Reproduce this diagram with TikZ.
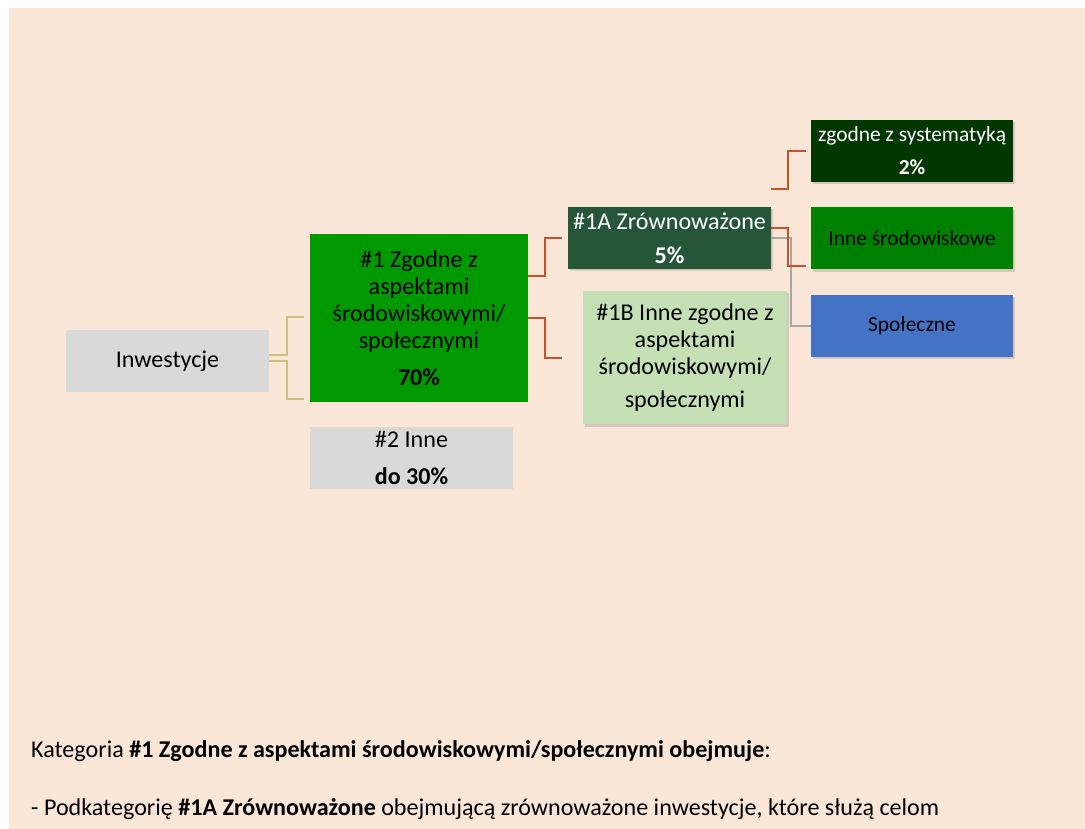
\documentclass[tikz,border=0pt]{standalone}
\usepackage{fontspec}
\setmainfont{Carlito}
\usepackage{tikz}
\usetikzlibrary{positioning,shadows}

\definecolor{tlo}{RGB}{250,231,215}
\definecolor{szary}{RGB}{217,217,217}
\definecolor{zielen}{RGB}{0,153,0}
\definecolor{ciemna}{RGB}{37,86,57}
\definecolor{jasna}{RGB}{197,224,180}
\definecolor{najciemn}{RGB}{0,55,0}
\definecolor{srodkowa}{RGB}{0,128,0}
\definecolor{niebieska}{RGB}{68,114,196}
\definecolor{piaskowa}{RGB}{204,192,128}
\definecolor{ceglasta}{RGB}{202,82,42}
\definecolor{popiel}{RGB}{165,165,165}

\begin{document}
\begin{tikzpicture}[x=1pt,y=-1pt,
	box/.style={inner sep=0pt, align=center, font=\fontsize{24.1}{27}\selectfont},
	mala/.style={inner sep=0pt, align=center, font=\fontsize{21.4}{25}\selectfont, minimum width=202pt, minimum height=62pt},
	cien/.style={drop shadow={opacity=0.3, shadow xshift=1.5pt, shadow yshift=-2.5pt}},
	tanline/.style={draw=piaskowa, line width=2pt},
	redline/.style={draw=ceglasta, line width=2pt},
	grayline/.style={draw=popiel, line width=1.5pt}]
	\useasboundingbox (0,0) rectangle (1085,829);
	\fill[tlo] (9,8) rectangle (1085,829);
	
	\node[box, fill=szary, minimum width=203pt, minimum height=62pt] (inw) at (167.5,361) {Inwestycje};
	\node[box, fill=zielen, minimum width=218pt, minimum height=168pt] (zg) at (419,318) {\#1 Zgodne z\\aspektami\\środowiskowymi/\\społecznymi\\[10pt]\textbf{70\%}};
	\node[box, fill=szary, minimum width=203pt, minimum height=62pt, below=25pt of zg.south west, anchor=north west] (inne) {\#2 Inne\\[10pt]\textbf{do 30\%}};
	
	\node[box, text=white, fill=ciemna, cien, minimum width=203pt, minimum height=62pt] (zr) at (669.5,238) {\#1A Zrównoważone\\[7pt]\textbf{5\%}};
	\node[box, fill=jasna, cien, minimum width=204pt, minimum height=133pt] (ib) at (685,357.5) {\#1B Inne zgodne z\\aspektami\\środowiskowymi/\\[6pt]społecznymi};
	
	\node[mala, text=white, fill=najciemn, cien] (sys) at (912,151) {zgodne z systematyką\\[8pt]\textbf{2\%}};
	\node[mala, fill=srodkowa, cien, below=25pt of sys] (srod) {Inne środowiskowe};
	\node[mala, fill=niebieska, cien, below=25pt of srod] (spol) {Społeczne};
	
	\coordinate (t1) at (304,317);
	\coordinate (t2) at (304,399);
	
	\draw[tanline] ([yshift=6pt]inw.east) -- ++(18,0) |- (t1);
	\draw[tanline] (inw.east) -- ++(18,0) |- (t2);
	\draw[redline] ([yshift=42pt]zg.east) -- ++(17,0) |- ([xshift=-6pt]zr.west);
	\draw[redline] (zg.east) -- ++(17,0) |- ([xshift=-21pt]ib.west);
	\draw[grayline] (zr.east) -- ++(20,0) |- (spol.west);
	\draw[redline] ([yshift=49pt]zr.east) -- ++(17,0) |- ([xshift=-5pt]sys.west);
	\draw[redline] ([yshift=10pt]zr.east) -- ++(17,0) |- ([shift={(-5pt,-28pt)}]srod.west);
	
	\node[anchor=base west, inner sep=0pt, font=\fontsize{24.1}{27}\selectfont] (kat) at (31,757) {Kategoria \textbf{\#1 Zgodne z aspektami środowiskowymi/społecznymi obejmuje}:};
	\node[anchor=base west, inner sep=0pt, font=\fontsize{24.1}{27}\selectfont] (pod) at (31,815) {- Podkategorię \textbf{\#1A Zrównoważone} obejmującą zrównoważone inwestycje, które służą celom};
\end{tikzpicture}
\end{document}
